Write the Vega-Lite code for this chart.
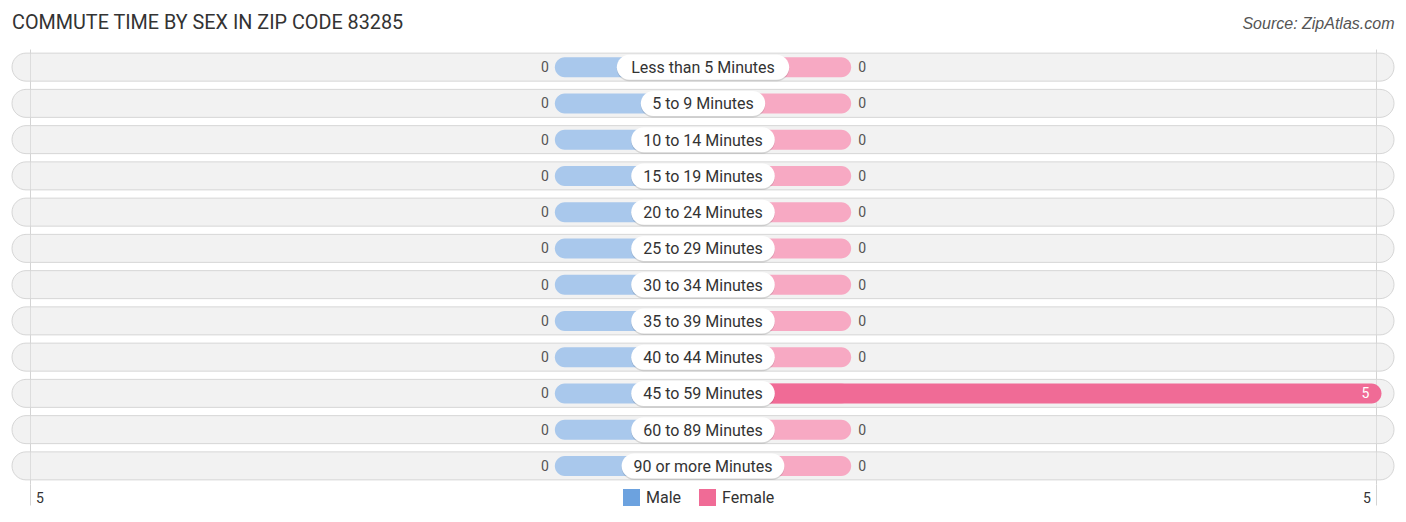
{
  "$schema": "https://vega.github.io/schema/vega-lite/v6.json",
  "autosize": {"type": "none"},
  "padding": {"left": 12, "top": 49, "right": 12, "bottom": 38},
  "width": 1382,
  "height": 435,
  "background": "white",
  "title": {
    "text": "COMMUTE TIME BY SEX IN ZIP CODE 83285",
    "anchor": "start",
    "frame": "group",
    "fontSize": 19.8,
    "fontWeight": "normal",
    "color": "#333333",
    "offset": -18
  },
  "config": {
    "font": "Roboto",
    "view": {"stroke": null}
  },
  "data": {
    "values": [
      {"group": "Less than 5 Minutes", "sex": "Male", "value": 0},
      {"group": "Less than 5 Minutes", "sex": "Female", "value": 0},
      {"group": "5 to 9 Minutes", "sex": "Male", "value": 0},
      {"group": "5 to 9 Minutes", "sex": "Female", "value": 0},
      {"group": "10 to 14 Minutes", "sex": "Male", "value": 0},
      {"group": "10 to 14 Minutes", "sex": "Female", "value": 0},
      {"group": "15 to 19 Minutes", "sex": "Male", "value": 0},
      {"group": "15 to 19 Minutes", "sex": "Female", "value": 0},
      {"group": "20 to 24 Minutes", "sex": "Male", "value": 0},
      {"group": "20 to 24 Minutes", "sex": "Female", "value": 0},
      {"group": "25 to 29 Minutes", "sex": "Male", "value": 0},
      {"group": "25 to 29 Minutes", "sex": "Female", "value": 0},
      {"group": "30 to 34 Minutes", "sex": "Male", "value": 0},
      {"group": "30 to 34 Minutes", "sex": "Female", "value": 0},
      {"group": "35 to 39 Minutes", "sex": "Male", "value": 0},
      {"group": "35 to 39 Minutes", "sex": "Female", "value": 0},
      {"group": "40 to 44 Minutes", "sex": "Male", "value": 0},
      {"group": "40 to 44 Minutes", "sex": "Female", "value": 0},
      {"group": "45 to 59 Minutes", "sex": "Male", "value": 0},
      {"group": "45 to 59 Minutes", "sex": "Female", "value": 5},
      {"group": "60 to 89 Minutes", "sex": "Male", "value": 0},
      {"group": "60 to 89 Minutes", "sex": "Female", "value": 0},
      {"group": "90 or more Minutes", "sex": "Male", "value": 0},
      {"group": "90 or more Minutes", "sex": "Female", "value": 0}
    ]
  },
  "encoding": {
    "y": {
      "field": "group",
      "type": "nominal",
      "sort": null,
      "axis": null,
      "scale": {"paddingInner": 0, "paddingOuter": 0}
    }
  },
  "resolve": {"axis": {"x": "independent"}},
  "layer": [
    {
      "transform": [{"filter": "datum.sex == 'Male'"}],
      "mark": {"type": "bar", "height": 28, "cornerRadius": 14, "fill": "#e6e6e6", "fillOpacity": 0.5, "stroke": "#d6d6d6", "strokeWidth": 1},
      "encoding": {
        "x": {
          "datum": -5.13,
          "type": "quantitative",
          "scale": {"domain": [-5.13, 5.13], "nice": false, "zero": false},
          "axis": {
            "orient": "top",
            "labels": false,
            "ticks": false,
            "domain": false,
            "grid": false,
            "title": "Source: ZipAtlas.com",
            "titleAnchor": "end",
            "titleFont": "Liberation Sans",
            "titleFontSize": 16,
            "titleFontStyle": "italic",
            "titleFontWeight": "normal",
            "titleColor": "#555555",
            "titlePadding": 18
          }
        },
        "x2": {"datum": 5.13}
      }
    },
    {
      "transform": [{"filter": "datum.sex == 'Male'"}],
      "mark": {"type": "bar", "height": 20, "cornerRadius": 10, "fill": "#a9c8ec"},
      "encoding": {
        "x": {
          "datum": -1.1,
          "type": "quantitative",
          "axis": {
            "orient": "bottom",
            "values": [-5, 5],
            "grid": true,
            "gridColor": "#d4d4d4",
            "ticks": true,
            "tickSize": 21,
            "tickColor": "#d4d4d4",
            "domain": false,
            "title": null,
            "labelExpr": "format(abs(datum.value), 'd')",
            "labelFontSize": 14,
            "labelColor": "#333333",
            "labelPadding": -14,
            "labelAlign": {"condition": {"test": "datum.value < 0", "value": "left"}, "value": "right"},
            "labelOffset": {"condition": {"test": "datum.value < 0", "value": 6}, "value": -6}
          }
        },
        "x2": {"datum": 0}
      }
    },
    {
      "transform": [{"filter": "datum.sex == 'Female'"}],
      "mark": {"type": "bar", "height": 20, "cornerRadius": 10, "fill": "#f7a9c3"},
      "encoding": {
        "x": {"datum": 0, "type": "quantitative", "axis": null},
        "x2": {"datum": 1.1}
      }
    },
    {
      "transform": [{"filter": "datum.sex == 'Female' && datum.value > 0"}],
      "mark": {"type": "bar", "height": 20, "cornerRadius": 10, "xOffset": 5},
      "encoding": {
        "x": {"field": "value", "type": "quantitative", "axis": null},
        "x2": {"datum": 0},
        "color": {
          "field": "sex",
          "type": "nominal",
          "scale": {"domain": ["Male", "Female"], "range": ["#6ca2df", "#f06b96"]},
          "legend": {
            "orient": "none",
            "legendX": 611,
            "legendY": 440,
            "direction": "horizontal",
            "title": null,
            "symbolType": "square",
            "symbolSize": 289,
            "symbolStrokeWidth": 0,
            "labelFontSize": 16,
            "labelColor": "#333333",
            "labelOffset": 6,
            "columnPadding": 17
          }
        }
      }
    },
    {
      "transform": [{"filter": "datum.sex == 'Male' && datum.value == 0"}],
      "mark": {"type": "text", "align": "right", "baseline": "middle", "dx": -6, "dy": 1, "fontSize": 14, "color": "#555555"},
      "encoding": {
        "x": {"datum": -1.1, "type": "quantitative", "axis": null},
        "text": {"field": "value", "type": "quantitative"}
      }
    },
    {
      "transform": [{"filter": "datum.sex == 'Female' && datum.value == 0"}],
      "mark": {"type": "text", "align": "left", "baseline": "middle", "dx": 7, "dy": 1, "fontSize": 14, "color": "#555555"},
      "encoding": {
        "x": {"datum": 1.1, "type": "quantitative", "axis": null},
        "text": {"field": "value", "type": "quantitative"}
      }
    },
    {
      "transform": [{"filter": "datum.sex == 'Female' && datum.value > 0"}],
      "mark": {"type": "text", "align": "right", "baseline": "middle", "dx": -7, "dy": 1, "fontSize": 14, "color": "white"},
      "encoding": {
        "x": {"field": "value", "type": "quantitative", "axis": null},
        "text": {"field": "value", "type": "quantitative"}
      }
    },
    {
      "transform": [{"filter": "datum.sex == 'Male'"}],
      "mark": {
        "type": "bar",
        "height": 25,
        "cornerRadius": 12.5,
        "fill": "#000000",
        "opacity": 0.12,
        "yOffset": 1.5,
        "xOffset": {"expr": "-(4.8 * length(datum.group) - 5)"},
        "x2Offset": {"expr": "4.8 * length(datum.group) - 5"}
      },
      "encoding": {
        "x": {"datum": 0, "type": "quantitative", "axis": null},
        "x2": {"datum": 0}
      }
    },
    {
      "transform": [{"filter": "datum.sex == 'Male'"}],
      "mark": {
        "type": "bar",
        "height": 25,
        "cornerRadius": 12.5,
        "fill": "white",
        "xOffset": {"expr": "-(4.8 * length(datum.group) - 5)"},
        "x2Offset": {"expr": "4.8 * length(datum.group) - 5"}
      },
      "encoding": {
        "x": {"datum": 0, "type": "quantitative", "axis": null},
        "x2": {"datum": 0}
      }
    },
    {
      "transform": [{"filter": "datum.sex == 'Male'"}],
      "mark": {"type": "text", "align": "center", "baseline": "middle", "dy": 1, "fontSize": 16, "color": "#333333"},
      "encoding": {
        "x": {"datum": 0, "type": "quantitative", "axis": null},
        "text": {"field": "group", "type": "nominal"}
      }
    }
  ]
}
